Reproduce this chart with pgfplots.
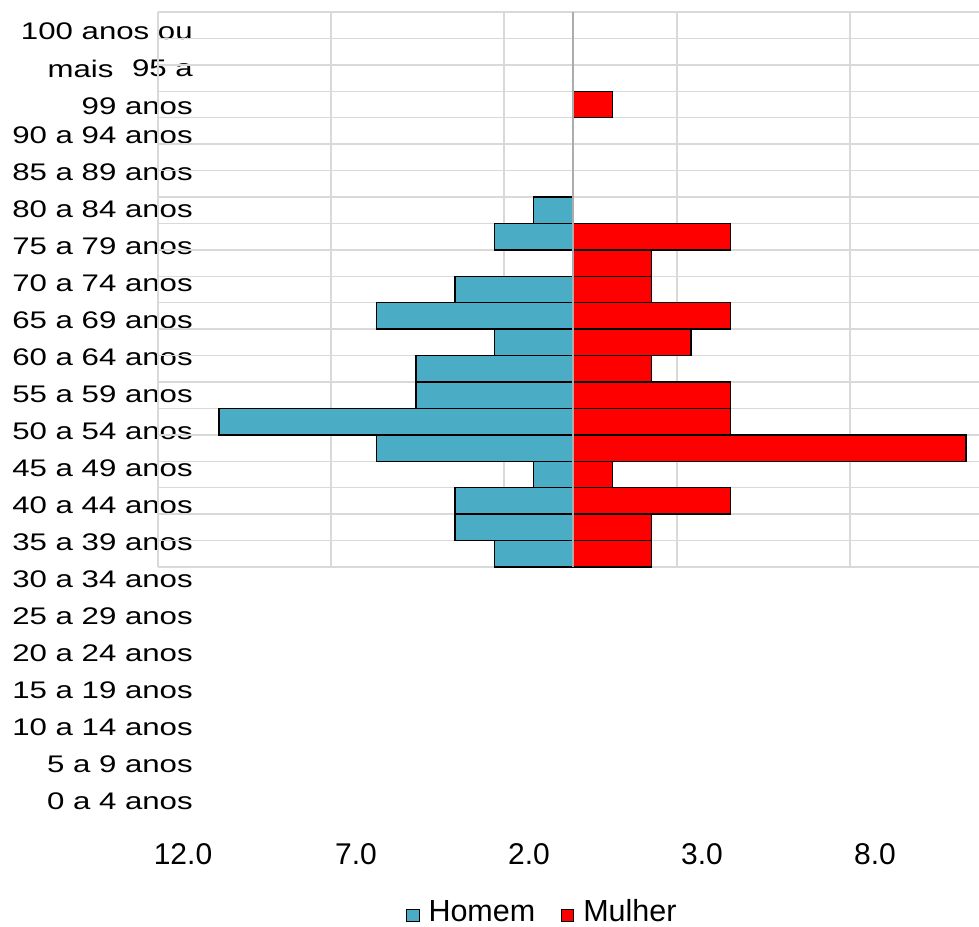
\documentclass[border=0pt]{standalone}
\usepackage{pgfplots}
\pgfplotsset{compat=1.18}
\usepackage{pgfplotstable}
\usepackage{fontspec}
\setmainfont{Liberation Sans}

\definecolor{homem}{HTML}{4BACC6}
\definecolor{mulher}{HTML}{FF0000}
\definecolor{gridgray}{HTML}{D9D9D9}

% row = position of the bar (1 = top row), value = share in %
\pgfplotstableread{
row value
8  -1.14
9  -2.27
11 -3.41
12 -5.68
13 -2.27
14 -4.55
15 -4.55
16 -10.23
17 -5.68
18 -1.14
19 -3.41
20 -3.41
21 -2.27
}\homemdata

\pgfplotstableread{
row value
4  1.14
9  4.55
10 2.27
11 2.27
12 4.55
13 3.41
14 2.27
15 4.55
16 4.55
17 11.36
18 1.14
19 4.55
20 2.27
21 2.27
}\mulherdata

\begin{document}
\begin{tikzpicture}
\useasboundingbox (0pt,0pt) rectangle (979pt,-926pt);

% age-group labels
\begin{axis}[
  at={(193pt,-42.5pt)}, anchor=north west,
  scale only axis, width=20pt, height=777pt,
  xmin=0, xmax=1, ymin=0.5, ymax=21.5, y dir=reverse,
  axis line style={draw=none}, major tick length=0pt,
  xtick=\empty,
  ytick={3,...,21},
  yticklabels={90 a 94 anos, 85 a 89 anos, 80 a 84 anos, 75 a 79 anos,
    70 a 74 anos, 65 a 69 anos, 60 a 64 anos, 55 a 59 anos, 50 a 54 anos,
    45 a 49 anos, 40 a 44 anos, 35 a 39 anos, 30 a 34 anos, 25 a 29 anos,
    20 a 24 anos, 15 a 19 anos, 10 a 14 anos, 5 a 9 anos, 0 a 4 anos},
  extra y ticks={1,2},
  extra y tick labels={{100 anos ou\\mais\rule{61pt}{0pt}},{95 a\\99 anos}},
  extra y tick style={yticklabel style={yshift=11pt}},
  yticklabel style={anchor=east, inner sep=0pt, align=right, xscale=1.3,
    font=\fontsize{24}{37.5}\selectfont},
]
\end{axis}

% population bars
\begin{axis}[
  at={(158pt,-12pt)}, anchor=north west,
  scale only axis, width=821pt, height=555pt,
  xmin=-12, xmax=11.73, ymin=0.5, ymax=21.5, y dir=reverse,
  axis line style={draw=none}, major tick length=0pt,
  xtick={-12,-7,-2,3,8}, xticklabels={12.0,7.0,2.0,3.0,8.0},
  ytick={0.5,1.5,...,21.5}, yticklabels={,,},
  grid=major, major grid style={gridgray, line width=1.5pt},
  xticklabel style={font=\fontsize{30}{36}\selectfont, anchor=north,
    inner sep=0pt, yshift=-276pt, xshift=25pt},
  legend columns=2,
  legend style={draw=none, fill=none, at={(0.4665,-0.642)}, anchor=south,
    inner sep=0pt, outer sep=0pt, nodes={inner sep=0pt},
    cells={anchor=base west},
    font=\fontsize{30.5}{36}\selectfont,
    /tikz/every odd column/.append style={column sep=9pt},
    /tikz/every even column/.append style={column sep=26pt}},
]
\addplot[xbar, bar width=1, bar shift=0pt, fill=homem, draw=black, line width=1.5pt,
  legend image code/.code={\draw[fill=homem, draw=black, line width=1pt] (0pt,0pt) rectangle (13pt,12pt);}]
  table[x=value, y=row] {\homemdata};
\addlegendentry{Homem}
\addplot[xbar, bar width=1, bar shift=0pt, fill=mulher, draw=black, line width=1.5pt,
  legend image code/.code={\draw[fill=mulher, draw=black, line width=1pt] (0pt,0pt) rectangle (12pt,12pt);}]
  table[x=value, y=row] {\mulherdata};
\addlegendentry{Mulher}
% vertical axis line at zero
\addplot[gray!65, line width=2pt, forget plot] coordinates {(0,0.5) (0,21.5)};
\end{axis}
\end{tikzpicture}
\end{document}
